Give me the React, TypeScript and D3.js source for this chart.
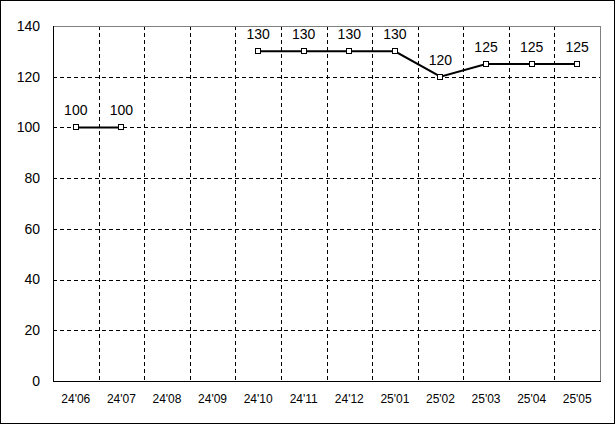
import React from "react";
import * as d3 from "d3";

const categories = ["24'06", "24'07", "24'08", "24'09", "24'10", "24'11", "24'12", "25'01", "25'02", "25'03", "25'04", "25'05"];
const values: (number | null)[] = [100, 100, null, null, 130, 130, 130, 130, 120, 125, 125, 125];
const yTicks = [0, 20, 40, 60, 80, 100, 120, 140];

const W = 615, H = 424;
const L = 53, R = 600, T = 26, B = 381;

export default function App() {
  const x = d3.scaleBand<string>().domain(categories).range([L, R]).paddingInner(0).paddingOuter(0);
  const y = d3.scaleLinear().domain([0, 140]).range([B, T]);
  const cx = (c: string) => (x(c) as number) + x.bandwidth() / 2;
  const pts = categories.map((c, i) => ({ c, v: values[i] }));
  const line = d3.line<{ c: string; v: number | null }>()
    .defined(d => d.v !== null)
    .x(d => cx(d.c))
    .y(d => y(d.v as number));
  const font = "'Liberation Sans', Arial, sans-serif";
  return (
    <svg width={W} height={H} style={{ position: "absolute", left: 0, top: 0, background: "#fff" }} shapeRendering="crispEdges">
      <rect x={0.5} y={0.5} width={W - 1} height={H - 1} fill="#fff" stroke="#000" />
      {yTicks.filter(t => t > 0 && t < 140).map(t => (
        <line key={"h" + t} x1={L} x2={R} y1={Math.round(y(t)) + 0.5} y2={Math.round(y(t)) + 0.5} stroke="#000" strokeDasharray="4,3" />
      ))}
      {categories.slice(1).map(c => (
        <line key={"v" + c} x1={Math.round(x(c) as number) + 0.5} x2={Math.round(x(c) as number) + 0.5} y1={T} y2={B} stroke="#000" strokeDasharray="4,3" />
      ))}
      <line x1={L} x2={R} y1={T + 0.5} y2={T + 0.5} stroke="#808080" />
      <line x1={R + 0.5} x2={R + 0.5} y1={T} y2={B} stroke="#808080" />
      <line x1={L + 0.5} x2={L + 0.5} y1={T} y2={B + 1} stroke="#000" />
      <line x1={L} x2={R + 1} y1={B + 0.5} y2={B + 0.5} stroke="#000" />
      {yTicks.map(t => (
        <text key={"yt" + t} x={40} y={y(t)} dy="0.35em" textAnchor="end" fontFamily={font} fontSize={14} fill="#000">{t}</text>
      ))}
      {categories.map(c => (
        <text key={"xt" + c} x={cx(c)} y={403} textAnchor="middle" fontFamily={font} fontSize={12} fill="#000">{c}</text>
      ))}
      <path d={line(pts) || ""} fill="none" stroke="#000" strokeWidth={2} shapeRendering="auto" />
      {pts.filter(p => p.v !== null).map(p => (
        <g key={"p" + p.c}>
          <rect x={Math.round(cx(p.c)) - 3 + 0.5} y={Math.round(y(p.v as number)) - 3 + 0.5} width={5} height={5} fill="#fff" stroke="#000" />
          <text x={cx(p.c)} y={y(p.v as number) - 12} textAnchor="middle" fontFamily={font} fontSize={14} fill="#000">{p.v}</text>
        </g>
      ))}
    </svg>
  );
}
